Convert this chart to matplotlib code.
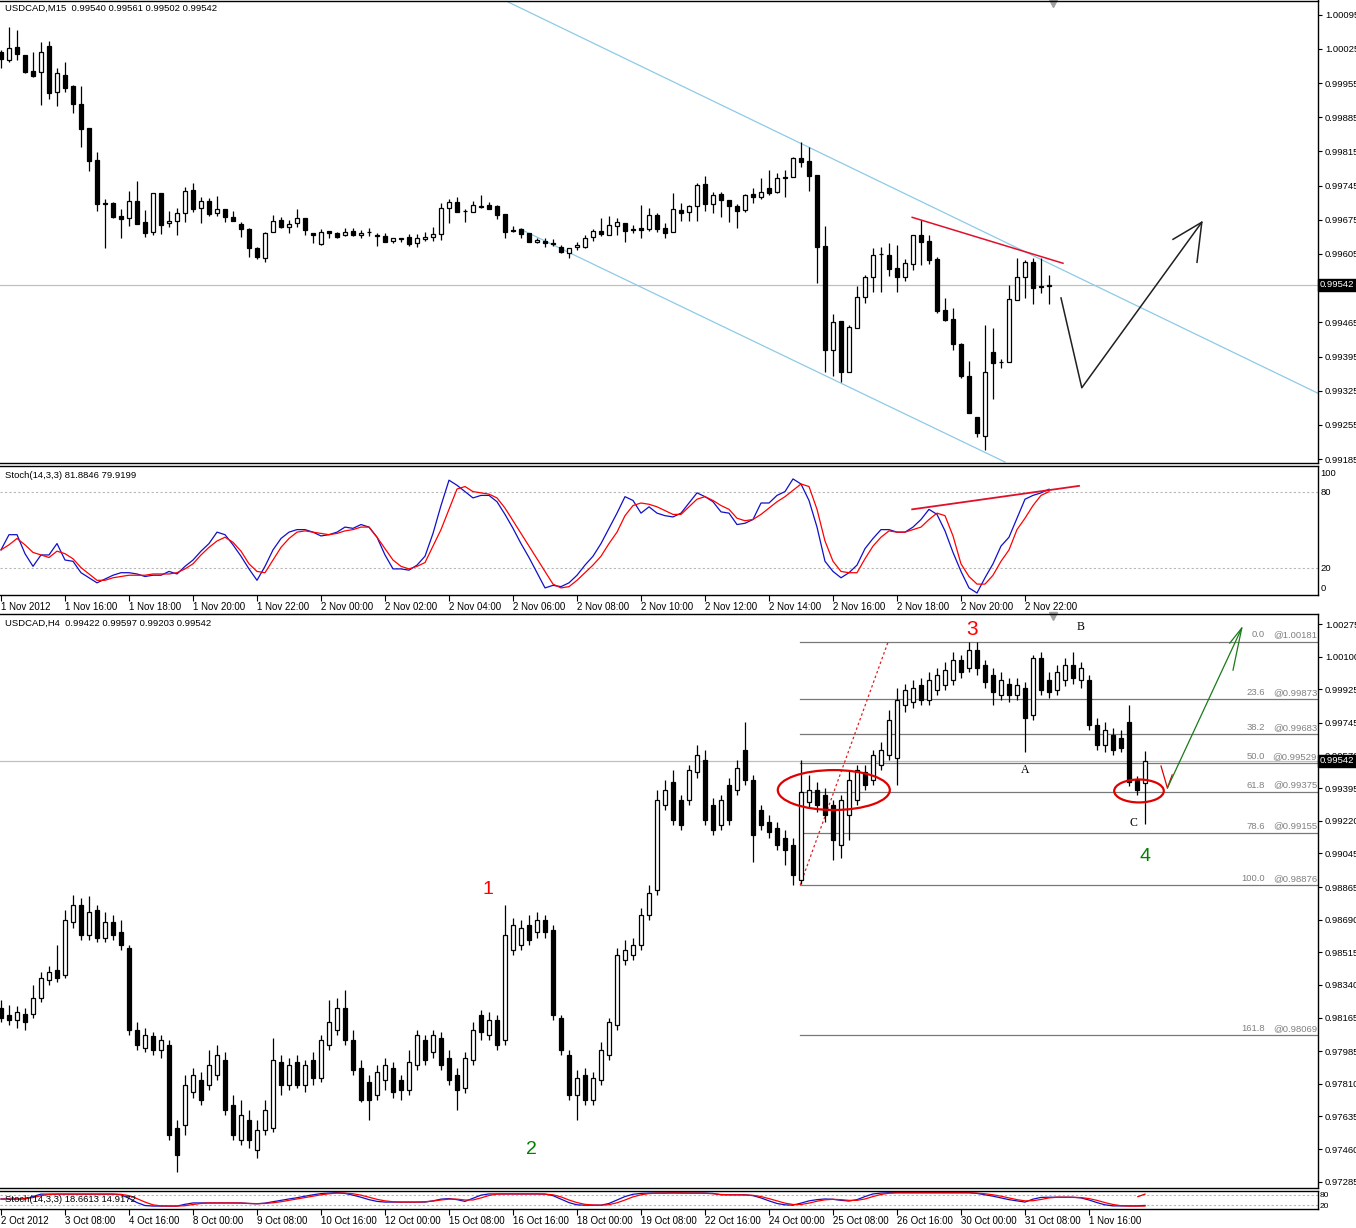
import matplotlib
matplotlib.use("Agg")
import matplotlib.pyplot as plt
import matplotlib.transforms as mtransforms
from matplotlib.patches import Ellipse
import numpy as np

plt.rcParams['font.family'] = ['Liberation Sans', 'DejaVu Sans']

# ---------------- USDCAD M15 ----------------
m15_open = [1.00018, 1.00003, 1.00028, 1.00012, 0.99979, 0.99977, 1.00030, 0.99936, 0.99971, 0.99948,
            0.99913, 0.99862, 0.99797, 0.99709, 0.99709, 0.99682, 0.99678, 0.99713, 0.99670, 0.99650,
            0.99729, 0.99668, 0.99672, 0.99688, 0.99735, 0.99699, 0.99713, 0.99688, 0.99697, 0.99680,
            0.99666, 0.99656, 0.99617, 0.99596, 0.99650, 0.99674, 0.99660, 0.99668, 0.99678, 0.99648,
            0.99625, 0.99652, 0.99648, 0.99643, 0.99652, 0.99643, 0.99650, 0.99643, 0.99641, 0.99631,
            0.99637, 0.99639, 0.99627, 0.99635, 0.99639, 0.99646, 0.99699, 0.99711, 0.99693, 0.99691,
            0.99703, 0.99705, 0.99703, 0.99686, 0.99654, 0.99656, 0.99648, 0.99629, 0.99631, 0.99627,
            0.99619, 0.99607, 0.99619, 0.99619, 0.99639, 0.99652, 0.99643, 0.99662, 0.99668, 0.99656,
            0.99658, 0.99656, 0.99684, 0.99658, 0.99650, 0.99695, 0.99691, 0.99703, 0.99748, 0.99707,
            0.99727, 0.99715, 0.99703, 0.99695, 0.99727, 0.99721, 0.99740, 0.99731, 0.99762, 0.99762,
            0.99801, 0.99795, 0.99766, 0.99621, 0.99408, 0.99468, 0.99363, 0.99453, 0.99517, 0.99558,
            0.99605, 0.99603, 0.99576, 0.99558, 0.99584, 0.99643, 0.99631, 0.99594, 0.99490, 0.99472,
            0.99421, 0.99355, 0.99271, 0.99232, 0.99404, 0.99384, 0.99384, 0.99511, 0.99558, 0.99588,
            0.99539, 0.99540]
m15_high = [1.00022, 1.00069, 1.00063, 1.00012, 1.00018, 1.00040, 1.00042, 0.99985, 0.99999, 0.99950,
            0.99948, 0.99862, 0.99813, 0.99717, 0.99711, 0.99697, 0.99733, 0.99754, 0.99695, 0.99729,
            0.99729, 0.99693, 0.99699, 0.99742, 0.99750, 0.99721, 0.99719, 0.99723, 0.99697, 0.99693,
            0.99670, 0.99658, 0.99619, 0.99650, 0.99684, 0.99680, 0.99674, 0.99697, 0.99678, 0.99648,
            0.99656, 0.99652, 0.99650, 0.99658, 0.99658, 0.99654, 0.99658, 0.99648, 0.99648, 0.99637,
            0.99637, 0.99646, 0.99646, 0.99650, 0.99660, 0.99709, 0.99717, 0.99721, 0.99697, 0.99713,
            0.99725, 0.99711, 0.99705, 0.99686, 0.99662, 0.99658, 0.99648, 0.99637, 0.99637, 0.99635,
            0.99623, 0.99617, 0.99629, 0.99643, 0.99656, 0.99678, 0.99682, 0.99678, 0.99668, 0.99664,
            0.99705, 0.99699, 0.99688, 0.99668, 0.99729, 0.99709, 0.99705, 0.99750, 0.99764, 0.99731,
            0.99731, 0.99715, 0.99707, 0.99727, 0.99740, 0.99760, 0.99776, 0.99770, 0.99776, 0.99803,
            0.99834, 0.99825, 0.99766, 0.99662, 0.99482, 0.99468, 0.99459, 0.99539, 0.99562, 0.99617,
            0.99619, 0.99627, 0.99623, 0.99594, 0.99643, 0.99674, 0.99643, 0.99598, 0.99515, 0.99494,
            0.99423, 0.99386, 0.99271, 0.99459, 0.99453, 0.99390, 0.99541, 0.99596, 0.99592, 0.99596,
            0.99596, 0.99561]
m15_low = [0.99985, 0.99999, 1.00003, 0.99975, 0.99967, 0.99911, 0.99922, 0.99907, 0.99936, 0.99893,
           0.99825, 0.99774, 0.99693, 0.99617, 0.99678, 0.99637, 0.99662, 0.99666, 0.99639, 0.99643,
           0.99646, 0.99660, 0.99643, 0.99670, 0.99691, 0.99668, 0.99682, 0.99682, 0.99670, 0.99672,
           0.99639, 0.99598, 0.99594, 0.99588, 0.99650, 0.99658, 0.99648, 0.99660, 0.99643, 0.99627,
           0.99623, 0.99637, 0.99637, 0.99641, 0.99641, 0.99637, 0.99641, 0.99621, 0.99629, 0.99627,
           0.99629, 0.99621, 0.99619, 0.99631, 0.99631, 0.99633, 0.99668, 0.99691, 0.99670, 0.99691,
           0.99699, 0.99697, 0.99676, 0.99637, 0.99650, 0.99637, 0.99629, 0.99627, 0.99619, 0.99621,
           0.99607, 0.99596, 0.99613, 0.99617, 0.99631, 0.99641, 0.99643, 0.99643, 0.99629, 0.99648,
           0.99637, 0.99652, 0.99650, 0.99637, 0.99650, 0.99672, 0.99672, 0.99672, 0.99693, 0.99688,
           0.99680, 0.99670, 0.99658, 0.99691, 0.99709, 0.99717, 0.99725, 0.99729, 0.99721, 0.99762,
           0.99784, 0.99733, 0.99545, 0.99363, 0.99355, 0.99343, 0.99363, 0.99453, 0.99504, 0.99527,
           0.99527, 0.99560, 0.99527, 0.99549, 0.99572, 0.99582, 0.99584, 0.99484, 0.99468, 0.99409,
           0.99351, 0.99279, 0.99230, 0.99204, 0.99308, 0.99371, 0.99384, 0.99511, 0.99515, 0.99502,
           0.99525, 0.99502]
m15_close = [1.00005, 1.00026, 1.00014, 0.99977, 0.99969, 1.00018, 0.99934, 0.99975, 0.99944, 0.99913,
             0.99860, 0.99795, 0.99707, 0.99708, 0.99680, 0.99676, 0.99713, 0.99666, 0.99648, 0.99729,
             0.99664, 0.99672, 0.99688, 0.99733, 0.99697, 0.99713, 0.99686, 0.99697, 0.99680, 0.99672,
             0.99656, 0.99617, 0.99598, 0.99648, 0.99672, 0.99660, 0.99666, 0.99678, 0.99654, 0.99643,
             0.99650, 0.99648, 0.99639, 0.99650, 0.99643, 0.99648, 0.99649, 0.99641, 0.99629, 0.99637,
             0.99635, 0.99625, 0.99637, 0.99639, 0.99646, 0.99699, 0.99711, 0.99691, 0.99692, 0.99705,
             0.99702, 0.99697, 0.99684, 0.99650, 0.99653, 0.99646, 0.99629, 0.99633, 0.99627, 0.99626,
             0.99609, 0.99617, 0.99623, 0.99637, 0.99652, 0.99646, 0.99664, 0.99670, 0.99652, 0.99655,
             0.99654, 0.99684, 0.99656, 0.99648, 0.99697, 0.99688, 0.99703, 0.99746, 0.99707, 0.99725,
             0.99715, 0.99703, 0.99693, 0.99725, 0.99721, 0.99731, 0.99729, 0.99760, 0.99760, 0.99801,
             0.99793, 0.99764, 0.99619, 0.99408, 0.99466, 0.99363, 0.99455, 0.99517, 0.99558, 0.99603,
             0.99604, 0.99574, 0.99558, 0.99586, 0.99643, 0.99629, 0.99592, 0.99488, 0.99470, 0.99421,
             0.99355, 0.99279, 0.99239, 0.99363, 0.99382, 0.99383, 0.99513, 0.99558, 0.99588, 0.99535,
             0.99537, 0.99542]
m15_stoch_k = [34, 46, 46, 31, 21, 30, 30, 39, 26, 25, 16, 12, 8, 11, 14, 16, 16, 15, 13, 14,
               14, 17, 15, 21, 26, 33, 39, 48, 46, 38, 29, 19, 10, 21, 34, 43, 48, 50, 50, 48,
               45, 46, 48, 52, 51, 54, 52, 44, 30, 19, 19, 18, 22, 29, 47, 69, 89, 85, 80, 75,
               77, 77, 72, 62, 51, 39, 28, 16, 4, 6, 5, 8, 14, 22, 29, 39, 51, 63, 76, 73,
               63, 68, 63, 61, 60, 63, 71, 79, 76, 72, 64, 63, 54, 55, 58, 71, 71, 77, 80, 90,
               86, 73, 52, 25, 17, 12, 16, 22, 35, 43, 50, 50, 48, 48, 52, 58, 66, 62, 49, 32,
               17, 4, 0, 12, 23, 37, 44, 59, 74, 77, 79, 81.8846]
m15_stoch_d = [34, 38, 43, 38, 32, 30, 28, 33, 31, 27, 20, 15, 10, 10, 12, 13, 14, 14, 14, 15,
               15, 15, 16, 19, 23, 30, 36, 41, 44, 40, 33, 23, 17, 16, 26, 36, 43, 48, 49, 48,
               47, 46, 47, 49, 50, 52, 52, 44, 35, 26, 21, 19, 21, 24, 37, 50, 66, 82, 84, 80,
               79, 78, 75, 67, 57, 47, 37, 27, 17, 7, 4, 5, 10, 16, 22, 29, 39, 48, 61, 69,
               71, 70, 68, 65, 62, 62, 68, 74, 76, 73, 69, 66, 59, 57, 58, 62, 67, 72, 76, 81,
               86, 84, 66, 41, 25, 17, 16, 16, 27, 37, 44, 49, 48, 48, 50, 52, 58, 63, 61, 45,
               23, 13, 7, 7, 14, 25, 34, 50, 59, 69, 77, 79.9199]
m15_time_labels = ['1 Nov 2012', '1 Nov 16:00', '1 Nov 18:00', '1 Nov 20:00', '1 Nov 22:00',
                   '2 Nov 00:00', '2 Nov 02:00', '2 Nov 04:00', '2 Nov 06:00', '2 Nov 08:00',
                   '2 Nov 10:00', '2 Nov 12:00', '2 Nov 14:00', '2 Nov 16:00', '2 Nov 18:00',
                   '2 Nov 20:00', '2 Nov 22:00']
m15_price_ticks = [1.00095, 1.00025, 0.99955, 0.99885, 0.99815, 0.99745, 0.99675, 0.99605,
                   0.99465, 0.99395, 0.99325, 0.99255, 0.99185]
m15_last = 0.99542

# drawn objects on M15 (bar index, price)
m15_channel_upper = [(63.0, 1.00124), (164.6, 0.99320)]
m15_channel_lower = [(64.9, 0.99656), (125.5, 0.99179)]
m15_resistance = [(113.9, 0.99680), (132.75, 0.99586)]
m15_forecast = [(132.5, 0.99515), (135.1, 0.99331), (150.1, 0.99670)]
m15_forecast_head = [(146.5, 0.99635), (150.1, 0.99670), (149.5, 0.99588)]
m15_stoch_trend = [(113.9, 66), (134.75, 84.5)]

# ---------------- USDCAD H4 ----------------
h4_open = [0.98216, 0.98179, 0.98151, 0.98184, 0.98184, 0.98270, 0.98366, 0.98419, 0.98393, 0.98677,
           0.98768, 0.98607, 0.98741, 0.98591, 0.98677, 0.98623, 0.98538, 0.98098, 0.98002, 0.98066,
           0.97991, 0.98018, 0.97573, 0.97589, 0.97766, 0.97830, 0.97803, 0.97857, 0.97937, 0.97696,
           0.97508, 0.97615, 0.97455, 0.97562, 0.97573, 0.97926, 0.97803, 0.97926, 0.97803, 0.97937,
           0.97841, 0.98018, 0.98098, 0.98216, 0.98044, 0.97894, 0.97819, 0.97750, 0.97830, 0.97894,
           0.97830, 0.97776, 0.97910, 0.98044, 0.97980, 0.98055, 0.97948, 0.97857, 0.97787, 0.97937,
           0.98179, 0.98071, 0.98151, 0.98044, 0.98527, 0.98554, 0.98661, 0.98623, 0.98687, 0.98634,
           0.98163, 0.97964, 0.97750, 0.97857, 0.97723, 0.97830, 0.97964, 0.98125, 0.98473, 0.98500,
           0.98554, 0.98715, 0.98848, 0.99304, 0.99427, 0.99331, 0.99331, 0.99481, 0.99546, 0.99304,
           0.99197, 0.99411, 0.99384, 0.99599, 0.99438, 0.99277, 0.99213, 0.99181, 0.99127, 0.99090,
           0.98902, 0.99320, 0.99384, 0.99358, 0.99304, 0.99090, 0.99250, 0.99331, 0.99481, 0.99438,
           0.99519, 0.99572, 0.99556, 0.99840, 0.99856, 0.99948, 0.99867, 0.99921, 0.99948, 0.99974,
           1.00082, 1.00039, 1.00135, 1.00055, 1.00001, 0.99894, 0.99953, 0.99894, 0.99932, 0.99787,
           1.00093, 0.99974, 0.99921, 0.99974, 1.00055, 0.99974, 0.99974, 0.99733, 0.99626, 0.99679,
           0.99663, 0.99749, 0.99438, 0.99422]
h4_high = [0.98259, 0.98232, 0.98227, 0.98216, 0.98339, 0.98409, 0.98441, 0.98554, 0.98741, 0.98822,
           0.98806, 0.98816, 0.98768, 0.98731, 0.98715, 0.98687, 0.98554, 0.98141, 0.98109, 0.98087,
           0.98071, 0.98044, 0.97615, 0.97857, 0.97894, 0.97873, 0.97991, 0.98018, 0.97980, 0.97750,
           0.97723, 0.97669, 0.97615, 0.97723, 0.98055, 0.97964, 0.97948, 0.97964, 0.97937, 0.97980,
           0.98071, 0.98259, 0.98270, 0.98312, 0.98098, 0.97937, 0.97857, 0.97910, 0.97948, 0.97926,
           0.97857, 0.97991, 0.98098, 0.98071, 0.98098, 0.98087, 0.97991, 0.97894, 0.97980, 0.98141,
           0.98205, 0.98195, 0.98179, 0.98768, 0.98698, 0.98687, 0.98715, 0.98731, 0.98715, 0.98661,
           0.98179, 0.97991, 0.97883, 0.97894, 0.97873, 0.98034, 0.98163, 0.98538, 0.98580, 0.98591,
           0.98752, 0.98875, 0.99384, 0.99438, 0.99492, 0.99358, 0.99519, 0.99626, 0.99599, 0.99342,
           0.99358, 0.99449, 0.99546, 0.99749, 0.99465, 0.99304, 0.99250, 0.99213, 0.99170, 0.99127,
           0.99546, 0.99465, 0.99427, 0.99395, 0.99331, 0.99358, 0.99492, 0.99519, 0.99519, 0.99599,
           0.99642, 0.99814, 0.99932, 0.99953, 0.99974, 0.99985, 1.00017, 1.00039, 1.00071, 1.00125,
           1.00109, 1.00181, 1.00181, 1.00082, 1.00039, 1.00017, 0.99985, 0.99985, 0.99964, 1.00109,
           1.00125, 1.00017, 1.00055, 1.00093, 1.00125, 1.00071, 1.00001, 0.99771, 0.99749, 0.99717,
           0.99706, 0.99840, 0.99460, 0.99597]
h4_low = [0.98141, 0.98125, 0.98109, 0.98098, 0.98163, 0.98248, 0.98339, 0.98355, 0.98377, 0.98645,
          0.98580, 0.98580, 0.98570, 0.98570, 0.98580, 0.98527, 0.98071, 0.97991, 0.97980, 0.97964,
          0.97948, 0.97508, 0.97337, 0.97535, 0.97733, 0.97696, 0.97776, 0.97830, 0.97642, 0.97508,
          0.97481, 0.97465, 0.97412, 0.97535, 0.97551, 0.97750, 0.97776, 0.97787, 0.97766, 0.97803,
          0.97819, 0.97991, 0.98071, 0.98018, 0.97857, 0.97712, 0.97615, 0.97723, 0.97776, 0.97733,
          0.97723, 0.97750, 0.97883, 0.97910, 0.97948, 0.97883, 0.97803, 0.97669, 0.97760, 0.97910,
          0.98044, 0.98044, 0.97991, 0.98018, 0.98500, 0.98527, 0.98554, 0.98591, 0.98591, 0.98151,
          0.97964, 0.97723, 0.97615, 0.97696, 0.97696, 0.97803, 0.97937, 0.98098, 0.98446, 0.98473,
          0.98527, 0.98687, 0.98822, 0.99277, 0.99197, 0.99170, 0.99304, 0.99449, 0.99197, 0.99143,
          0.99170, 0.99197, 0.99358, 0.99411, 0.98998, 0.99170, 0.99127, 0.99063, 0.98982, 0.98876,
          0.98880, 0.99288, 0.99266, 0.99213, 0.99009, 0.99020, 0.99116, 0.99304, 0.99384, 0.99411,
          0.99492, 0.99546, 0.99411, 0.99803, 0.99824, 0.99840, 0.99840, 0.99894, 0.99921, 0.99948,
          0.99985, 1.00017, 1.00001, 0.99932, 0.99840, 0.99867, 0.99856, 0.99867, 0.99588, 0.99760,
          0.99894, 0.99878, 0.99894, 0.99942, 0.99953, 0.99932, 0.99706, 0.99599, 0.99588, 0.99572,
          0.99588, 0.99406, 0.99358, 0.99203]
h4_close = [0.98163, 0.98151, 0.98195, 0.98141, 0.98270, 0.98377, 0.98409, 0.98377, 0.98687, 0.98768,
            0.98607, 0.98731, 0.98591, 0.98677, 0.98607, 0.98554, 0.98098, 0.98018, 0.98071, 0.97991,
            0.98044, 0.97535, 0.97428, 0.97803, 0.97857, 0.97723, 0.97910, 0.97964, 0.97669, 0.97535,
            0.97642, 0.97508, 0.97562, 0.97669, 0.97937, 0.97803, 0.97910, 0.97803, 0.97910, 0.97841,
            0.98044, 0.98141, 0.98216, 0.98044, 0.97883, 0.97723, 0.97723, 0.97873, 0.97910, 0.97766,
            0.97776, 0.97926, 0.98071, 0.97937, 0.98071, 0.97910, 0.97830, 0.97776, 0.97948, 0.98098,
            0.98087, 0.98151, 0.98018, 0.98607, 0.98661, 0.98645, 0.98580, 0.98687, 0.98623, 0.98178,
            0.97991, 0.97750, 0.97841, 0.97723, 0.97841, 0.97991, 0.98141, 0.98500, 0.98527, 0.98554,
            0.98715, 0.98833, 0.99331, 0.99384, 0.99224, 0.99197, 0.99492, 0.99572, 0.99224, 0.99170,
            0.99331, 0.99224, 0.99503, 0.99438, 0.99143, 0.99197, 0.99159, 0.99090, 0.99063, 0.98929,
            0.99374, 0.99384, 0.99304, 0.99250, 0.99116, 0.99331, 0.99438, 0.99492, 0.99411, 0.99572,
            0.99599, 0.99760, 0.99867, 0.99921, 0.99932, 0.99867, 0.99974, 1.00001, 1.00028, 1.00082,
            1.00017, 1.00135, 1.00039, 0.99964, 0.99910, 0.99974, 0.99894, 0.99948, 0.99771, 1.00093,
            0.99921, 0.99910, 1.00017, 1.00055, 0.99985, 1.00039, 0.99733, 0.99626, 0.99706, 0.99599,
            0.99610, 0.99427, 0.99384, 0.99542]
h4_stoch_k = [56, 56, 56, 56, 70, 84, 84, 84, 84, 84, 84, 84, 84, 84, 84, 80, 60, 35, 18, 15,
              15, 15, 15, 25, 33, 33, 33, 33, 33, 33, 33, 30, 28, 32, 40, 48, 56, 63, 72, 80,
              87, 90, 92, 88, 78, 66, 52, 42, 38, 38, 38, 38, 38, 38, 45, 55, 58, 52, 42, 60,
              78, 85, 85, 85, 85, 85, 85, 85, 84, 75, 55, 35, 22, 20, 20, 20, 30, 50, 70, 83,
              88, 90, 90, 90, 91, 90, 90, 90, 90, 88, 80, 80, 80, 80, 75, 62, 45, 30, 22, 20,
              32, 45, 52, 56, 54, 48, 44, 52, 70, 85, 90, 92, 92, 92, 92, 92, 92, 92, 92, 92,
              92, 92, 88, 80, 72, 62, 52, 45, 38, 55, 65, 66, 66, 66, 66, 62, 50, 35, 22, 16,
              16, 16, 16, 18.6613]
h4_stoch_d = [55, 55, 56, 58, 64, 75, 82, 84, 84, 84, 84, 84, 84, 84, 84, 83, 75, 58, 38, 22,
              16, 15, 15, 17, 24, 30, 33, 33, 33, 33, 32, 30, 29, 30, 34, 40, 48, 56, 64, 72,
              80, 86, 90, 90, 86, 78, 66, 54, 45, 40, 38, 38, 38, 40, 44, 50, 55, 55, 50, 50,
              62, 76, 84, 85, 85, 85, 85, 85, 84, 80, 68, 50, 35, 25, 21, 20, 23, 34, 50, 68,
              80, 87, 90, 90, 91, 91, 90, 90, 89, 86, 82, 80, 80, 79, 77, 70, 58, 45, 32, 24,
              24, 32, 43, 51, 54, 52, 48, 48, 56, 70, 82, 89, 92, 92, 92, 92, 92, 92, 92, 92,
              92, 92, 90, 86, 80, 72, 62, 52, 45, 46, 53, 62, 66, 66, 65, 64, 58, 48, 35, 24,
              17, 15, 15, 14.9172]
h4_time_labels = ['2 Oct 2012', '3 Oct 08:00', '4 Oct 16:00', '8 Oct 00:00', '9 Oct 08:00',
                  '10 Oct 16:00', '12 Oct 00:00', '15 Oct 08:00', '16 Oct 16:00', '18 Oct 00:00',
                  '19 Oct 08:00', '22 Oct 16:00', '24 Oct 00:00', '25 Oct 08:00', '26 Oct 16:00',
                  '30 Oct 00:00', '31 Oct 08:00', '1 Nov 16:00']
h4_price_ticks = [1.00275, 1.00100, 0.99925, 0.99745, 0.99570, 0.99395, 0.99220, 0.99045, 0.98865,
                  0.98690, 0.98515, 0.98340, 0.98165, 0.97985, 0.97810, 0.97635, 0.97460, 0.97285]
h4_last = 0.99542

fib_ratios = ['0.0', '23.6', '38.2', '50.0', '61.8', '78.6', '100.0', '161.8']
fib_prices = [1.00181, 0.99873, 0.99683, 0.99529, 0.99375, 0.99155, 0.98876, 0.98069]
fib_anchor = [(99.9, 0.98876), (110.9, 1.00181)]
wave_labels = [('3', 121.4, 1.00248, 'red', 15), ('1', 60.9, 0.98849, 'red', 14),
               ('2', 66.25, 0.97455, 'green', 14), ('4', 143.0, 0.99026, 'green', 14)]
abc_labels = [('B', 135.0, 1.00259), ('A', 128.0, 0.99492), ('C', 141.5, 0.99208)]
h4_circles = [(104.1, 0.99385, 14.0, 0.00214), (142.25, 0.99380, 6.2, 0.00123)]
h4_tick_mark = [(145.0, 0.99514), (145.8, 0.99396), (146.4, 0.99466)]
h4_forecast = [(145.8, 0.99396), (155.1, 1.00254)]
h4_forecast_head = [(153.6, 1.00173), (155.1, 1.00254), (154.0, 1.00028)]
h4_stoch_mark = [(142.1, 69), (143.0, 84)]

# ---------------- layout ----------------
W, H = 1356, 1228
XMIN, XMAX = -0.125, 164.625


def box(x0, y0, x1, y1):
    return [x0 / W, 1 - y1 / H, (x1 - x0) / W, (y1 - y0) / H]


def draw_candles(ax, o, h, l, c, width=0.6):
    o, h, l, c = map(np.asarray, (o, h, l, c))
    x = np.arange(len(o))
    ax.vlines(x, l, h, color='black', lw=0.9, zorder=3)
    up = c >= o
    bottom = np.minimum(o, c)
    height = np.maximum(np.abs(c - o), 1e-6)
    ax.bar(x[up], height[up], bottom=bottom[up], width=width, facecolor='white',
           edgecolor='black', lw=0.9, zorder=4)
    ax.bar(x[~up], height[~up], bottom=bottom[~up], width=width, facecolor='black',
           edgecolor='black', lw=0.9, zorder=4)


def style_axes(ax):
    for side in ['top', 'right', 'bottom']:
        ax.spines[side].set_color('black')
        ax.spines[side].set_linewidth(1.0)
    ax.spines['left'].set_visible(False)
    ax.yaxis.tick_right()
    ax.tick_params(axis='y', direction='out', length=3, width=0.8, labelsize=6.8, pad=2, left=False)
    ax.set_xlim(XMIN, XMAX)


def last_price_box(ax, price):
    trans = mtransforms.blended_transform_factory(ax.transAxes, ax.transData)
    ax.axhline(price, color='#c0c0c0', lw=0.9, zorder=1)
    ax.text(1.0015, price, '%.5f' % price, transform=trans, color='white', fontsize=6.8,
            va='center', ha='left', clip_on=False, zorder=10,
            bbox=dict(facecolor='black', edgecolor='black', pad=1.2))


def time_axis(ax, labels):
    ticks = [8 * k for k in range(len(labels))]
    ax.set_xticks(ticks)
    ax.set_xticklabels(labels)
    ax.tick_params(axis='x', direction='out', length=4, width=0.8, labelsize=7, pad=1)
    for lbl in ax.get_xticklabels():
        lbl.set_horizontalalignment('left')


fig = plt.figure(figsize=(W / 100, H / 100), dpi=100)
fig.patch.set_facecolor('white')

ax1 = fig.add_axes(box(0, 0.5, 1318, 463))
ax2 = fig.add_axes(box(0, 466, 1318, 595))
ax3 = fig.add_axes(box(0, 614, 1318, 1188))
ax4 = fig.add_axes(box(0, 1191, 1318, 1209))

# ---- M15 price ----
style_axes(ax1)
draw_candles(ax1, m15_open, m15_high, m15_low, m15_close)
ax1.set_ylim(0.99177, 1.00124)
ax1.set_yticks(m15_price_ticks)
ax1.set_yticklabels(['%.5f' % p for p in m15_price_ticks])
ax1.tick_params(axis='x', bottom=False, labelbottom=False)
last_price_box(ax1, m15_last)
for line in (m15_channel_upper, m15_channel_lower):
    xs, ys = zip(*line)
    ax1.plot(xs, ys, color='#8ecae6', lw=0.9, zorder=2)
xs, ys = zip(*m15_resistance)
ax1.plot(xs, ys, color='#e0102a', lw=1.1, zorder=5)
for line in (m15_forecast, m15_forecast_head):
    xs, ys = zip(*line)
    ax1.plot(xs, ys, color='#202020', lw=1.1, zorder=5)
ax1.plot([131.5], [1.00118], marker='v', color='#a0a0a0', markersize=6, clip_on=False)
fig.text(5 / W, 1 - 8 / H, 'USDCAD,M15  0.99540 0.99561 0.99502 0.99542', fontsize=6.8,
         va='center', ha='left')

# ---- M15 stochastic ----
style_axes(ax2)
x = np.arange(len(m15_stoch_k))
ax2.plot(x, m15_stoch_k, color='#1010c8', lw=0.9, zorder=3)
ax2.plot(x, m15_stoch_d, color='#ff0000', lw=0.9, zorder=3)
for lvl in (80, 20):
    ax2.axhline(lvl, color='#b8b8b8', lw=0.8, ls=(0, (2, 2)), zorder=1)
xs, ys = zip(*m15_stoch_trend)
ax2.plot(xs, ys, color='#e0102a', lw=1.3, zorder=4)
ax2.set_ylim(-1.6, 100.2)
ax2.set_yticks([95.3, 80, 20, 4.7])
ax2.set_yticklabels(['100', '80', '20', '0'])
ax2.tick_params(axis='y', length=0)
time_axis(ax2, m15_time_labels)
fig.text(5 / W, 1 - 475 / H, 'Stoch(14,3,3) 81.8846 79.9199', fontsize=6.8, va='center', ha='left')

# ---- H4 price ----
style_axes(ax3)
draw_candles(ax3, h4_open, h4_high, h4_low, h4_close)
ax3.set_ylim(0.97251, 1.00329)
ax3.set_yticks(h4_price_ticks)
ax3.set_yticklabels(['%.5f' % p for p in h4_price_ticks])
ax3.tick_params(axis='x', bottom=False, labelbottom=False)
last_price_box(ax3, h4_last)
for ratio, price in zip(fib_ratios, fib_prices):
    ax3.plot([fib_anchor[0][0], XMAX], [price, price], color='#787878', lw=0.9, zorder=2)
    ax3.text(158.0, price + 0.00012, ratio, color='#808080', fontsize=6.8, ha='right', va='bottom')
    ax3.text(164.5, price + 0.00012, '@%.5f' % price, color='#808080', fontsize=6.8,
             ha='right', va='bottom')
xs, ys = zip(*fib_anchor)
ax3.plot(xs, ys, color='#e02020', lw=0.9, ls=(0, (2, 2)), zorder=2)
for txt, xi, yp, col, fs in wave_labels:
    ax3.text(xi, yp, txt, color=col, fontsize=fs, ha='center', va='center')
for txt, xi, yp in abc_labels:
    ax3.text(xi, yp, txt, color='black', fontsize=8.5, ha='center', va='center',
             family=['Liberation Serif', 'DejaVu Serif'])
for cx, cy, w, h in h4_circles:
    ax3.add_patch(Ellipse((cx, cy), w, h, fill=False, edgecolor='#e00000', lw=1.6, zorder=6))
xs, ys = zip(*h4_tick_mark)
ax3.plot(xs, ys, color='#e00000', lw=0.9, zorder=6)
for line in (h4_forecast, h4_forecast_head):
    xs, ys = zip(*line)
    ax3.plot(xs, ys, color='#1a7a1a', lw=0.9, zorder=6)
ax3.plot([131.5], [1.00318], marker='v', color='#a0a0a0', markersize=6, clip_on=False)
fig.text(5 / W, 1 - 623 / H, 'USDCAD,H4  0.99422 0.99597 0.99203 0.99542', fontsize=6.8,
         va='center', ha='left')

# ---- H4 stochastic ----
style_axes(ax4)
x = np.arange(len(h4_stoch_k))
ax4.plot(x, h4_stoch_k, color='#1010c8', lw=0.9)
ax4.plot(x, h4_stoch_d, color='#ff0000', lw=0.9)
for lvl in (80, 20):
    ax4.axhline(lvl, color='#b8b8b8', lw=0.8, ls=(0, (2, 2)), zorder=1)
xs, ys = zip(*h4_stoch_mark)
ax4.plot(xs, ys, color='#e00000', lw=0.9)
ax4.set_ylim(-2, 102)
ax4.set_yticks([80, 20])
ax4.set_yticklabels(['80', '20'])
ax4.tick_params(axis='y', length=0, labelsize=6, pad=1)
time_axis(ax4, h4_time_labels)
fig.text(5 / W, 1 - 1199 / H, 'Stoch(14,3,3) 18.6613 14.9172', fontsize=6.8, va='center', ha='left')

fig.savefig('out.png', dpi=100, facecolor='white')
